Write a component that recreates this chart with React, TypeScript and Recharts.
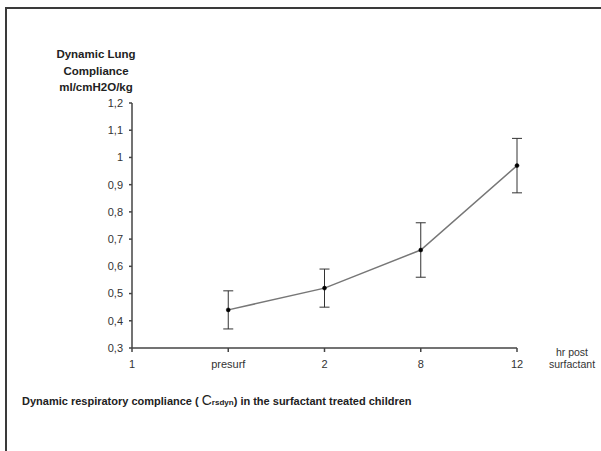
import { LineChart, Line, XAxis, YAxis, ErrorBar } from 'recharts'

const hours = ['1', 'presurf', '2', '8', '12']
const compliance = [null, 0.44, 0.52, 0.66, 0.97]
const sem = [null, 0.07, 0.07, 0.1, 0.1]
const yTicks = [0.3, 0.4, 0.5, 0.6, 0.7, 0.8, 0.9, 1, 1.1, 1.2]

const data = hours.map((h, i) => ({ hr: h, value: compliance[i], err: sem[i] }))

const font = '"Liberation Sans", Arial, sans-serif'
const fmt = (v: number) => String(v).replace('.', ',')

export default function App() {
  return (
    <div style={{ position: 'absolute', left: 0, top: 0, width: 601, height: 451, background: '#fff', fontFamily: font }}>
      {/* frame */}
      <div style={{ position: 'absolute', left: 6, top: 7, width: 595, height: 2, background: '#3a3a3a' }} />
      <div style={{ position: 'absolute', left: 5, top: 7, width: 2, height: 444, background: '#3a3a3a' }} />

      <div
        style={{
          position: 'absolute',
          left: 35,
          top: 46,
          width: 122,
          textAlign: 'center',
          fontWeight: 'bold',
          fontSize: 11.5,
          lineHeight: '16.5px',
          color: '#222',
        }}
      >
        Dynamic Lung
        <br />
        Compliance
        <br />
        ml/cmH2O/kg
      </div>

      <div
        style={{
          position: 'absolute',
          left: 532,
          top: 346,
          width: 80,
          textAlign: 'center',
          fontSize: 10.5,
          lineHeight: '12px',
          color: '#333',
        }}
      >
        hr post
        <br />
        surfactant
      </div>

      <div style={{ position: 'absolute', left: 22, top: 392, fontWeight: 'bold', fontSize: 11, color: '#222', whiteSpace: 'nowrap' }}>
        Dynamic respiratory compliance ( <span style={{ fontSize: 14, fontWeight: 'normal' }}>C</span>
        <span style={{ fontSize: 8 }}>rsdyn</span>) in the surfactant treated children
      </div>

      <div style={{ position: 'absolute', left: 0, top: 0 }}>
        <LineChart width={601} height={451} data={data} margin={{ top: 103, right: 84, bottom: 73, left: 72 }}>
          <XAxis
            dataKey="hr"
            height={30}
            tick={{ fontSize: 11, fill: '#333', fontFamily: font }}
            tickSize={4}
            tickMargin={8}
            stroke="#444"
            strokeWidth={1.5}
          />
          <YAxis
            width={60}
            domain={[0.3, 1.2]}
            ticks={yTicks}
            tickFormatter={fmt}
            tick={{ fontSize: 11, fill: '#333', fontFamily: font }}
            tickSize={3}
            tickMargin={6}
            stroke="#444"
            strokeWidth={1.5}
            allowDataOverflow
          />
          <Line
            dataKey="value"
            stroke="#777"
            strokeWidth={1.5}
            dot={{ r: 2, fill: '#000', stroke: '#000', strokeWidth: 0.5 }}
            isAnimationActive={false}
          >
            <ErrorBar dataKey="err" width={5} stroke="#333" strokeWidth={1} />
          </Line>
        </LineChart>
      </div>
    </div>
  )
}
